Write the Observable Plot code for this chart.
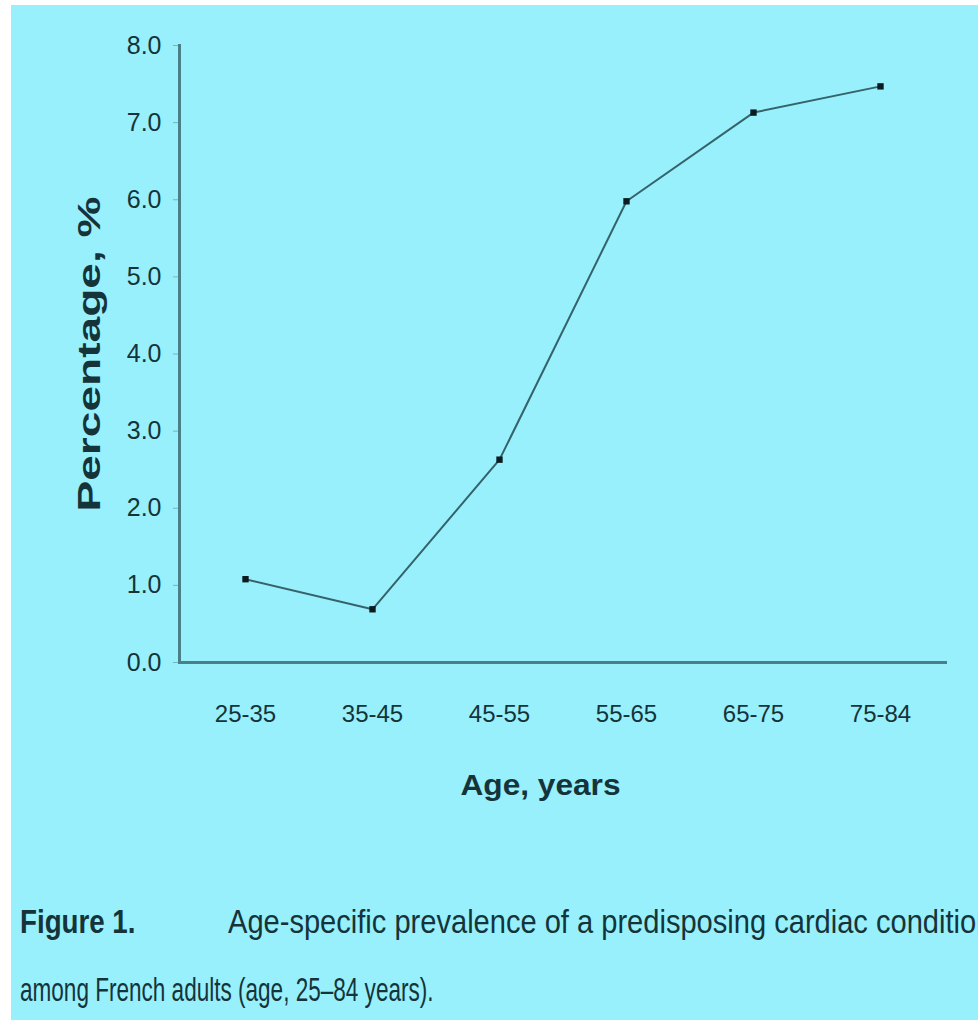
<!DOCTYPE html>
<html>
<head>
<meta charset="utf-8">
<script src="https://cdn.jsdelivr.net/npm/d3@7"></script>
<script src="https://cdn.jsdelivr.net/npm/@observablehq/plot@0.6"></script>
<style>
  html, body { margin: 0; padding: 0; background: #ffffff; }
  #wrap { position: absolute; left: 11px; top: 5px; width: 967px; height: 1015px; background: #98f0fc; overflow: hidden; }
  #chart { position: absolute; left: 0; top: 0; }
  .cap { position: absolute; white-space: nowrap; font-family: "Liberation Sans", Arial, sans-serif; font-size: 34px; color: #14343a; transform-origin: 0 0; }
</style>
</head>
<body>
<div id="wrap">
  <div id="chart"></div>
  <div class="cap" style="left: 9px; top: 897px; font-weight: bold; transform: scaleX(0.815);">Figure 1.</div>
  <div class="cap" style="left: 217px; top: 897px; transform: scaleX(0.855);">Age-specific prevalence of a predisposing cardiac condition</div>
  <div class="cap" style="left: 9px; top: 965px; transform: scaleX(0.663);">among French adults (age, 25–84 years).</div>
</div>
<script>
const ageGroups = ["25-35", "35-45", "45-55", "55-65", "65-75", "75-84"];
const prevalence = [1.08, 0.69, 2.63, 5.98, 7.13, 7.47];
const yTicks = [0, 1, 2, 3, 4, 5, 6, 7, 8];
const xTitle = "Age, years";
const yTitle = "Percentage, %";

const data = ageGroups.map((a, i) => ({age: a, value: prevalence[i]}));
const ink = "#14343a";
const axisColor = "#4a7f88";

const chart = Plot.plot({
  width: 967,
  height: 800,
  marginLeft: 168,
  marginRight: 33,
  marginTop: 40,
  marginBottom: 143,
  style: { background: "transparent", color: ink, overflow: "visible" },
  x: { type: "point", domain: ageGroups, padding: 0.5 },
  y: { domain: [0, 8] },
  marks: [
    Plot.axisY({
      ticks: yTicks, tickFormat: d3.format(".1f"), tickSize: 6, tickPadding: 12,
      stroke: axisColor, strokeOpacity: 0.5,
      fontSize: 25, fontFamily: "Liberation Sans, sans-serif",
      label: yTitle, labelAnchor: "center", labelArrow: "none", labelOffset: 102
    }),
    Plot.axisX({
      tickSize: 0, tickPadding: 42,
      fontSize: 24, fontFamily: "Liberation Sans, sans-serif",
      label: xTitle, labelAnchor: "center", labelArrow: "none", labelOffset: 132
    }),
    Plot.frame({ anchor: "left", stroke: axisColor, strokeWidth: 3 }),
    Plot.frame({ anchor: "bottom", stroke: axisColor, strokeWidth: 3 }),
    Plot.line(data, { x: "age", y: "value", stroke: "#35636a", strokeWidth: 2 }),
    Plot.dot(data, { x: "age", y: "value", symbol: "square", r: 3.6, fill: "#0b1c20" })
  ]
});

const svg = d3.select(chart);
svg.selectAll('g[aria-label="y-axis label"] text')
  .style("font-family", "Liberation Sans, Arial, sans-serif")
  .style("font-weight", "bold")
  .style("font-size", "31px")
  .attr("textLength", 315)
  .attr("lengthAdjust", "spacingAndGlyphs");
svg.selectAll('g[aria-label="x-axis label"] text')
  .style("font-family", "Liberation Sans, Arial, sans-serif")
  .style("font-weight", "bold")
  .style("font-size", "30px")
  .attr("dx", -22)
  .attr("textLength", 160)
  .attr("lengthAdjust", "spacingAndGlyphs");

document.getElementById("chart").appendChild(chart);
</script>
</body>
</html>
